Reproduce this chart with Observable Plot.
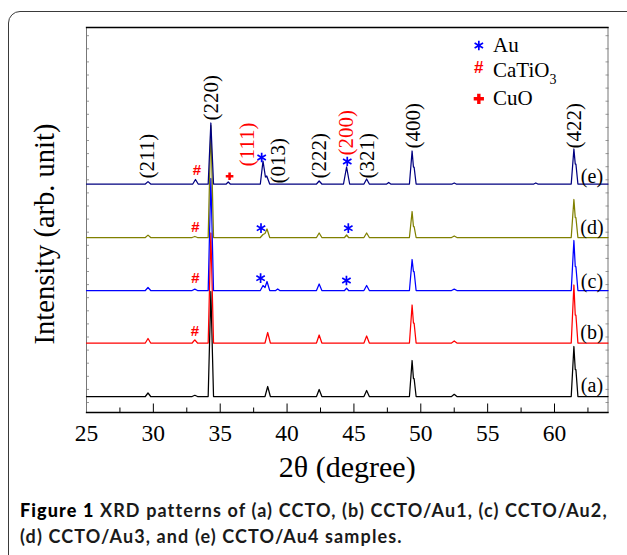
<!DOCTYPE html>
<html><head><meta charset="utf-8">
<script src="https://cdn.jsdelivr.net/npm/d3@7"></script>
<script src="https://cdn.jsdelivr.net/npm/@observablehq/plot@0.6"></script>
<style>
body{margin:0;background:#fff;width:627px;height:555px;overflow:hidden;position:relative;}
#box{position:absolute;left:8px;top:11px;width:700px;height:700px;border:1.5px solid #3a3a3a;border-top-left-radius:12px;box-sizing:border-box;z-index:2;pointer-events:none;}
#chart{position:absolute;left:0;top:0;z-index:1;}
#caption{position:absolute;left:20px;top:497px;font-family:Lato,"Open Sans",sans-serif;font-weight:700;font-size:18px;line-height:26px;color:#1a1a1a;white-space:nowrap;}
#caption b{color:#000;}
</style></head><body>
<div id="box"></div>
<div id="chart"></div>
<div id="caption"><span id="l1"><b>Figure 1</b> XRD patterns of (a) CCTO, (b) CCTO/Au1, (c) CCTO/Au2,</span><br><span id="l2">(d) CCTO/Au3, and (e) CCTO/Au4 samples.</span></div>
<script>
// ---------- data ----------
const sampleNames = ["(a)", "(b)", "(c)", "(d)", "(e)"];
const sampleColors = ["#000000", "#ff0000", "#0000ff", "#808000", "#000080"];
const offsets = [16, 69.5, 122, 175, 228.5];

const patternA = [[25,0],[29.4,0],[29.6,3.5],[29.8,0],[32.9,0],[33.1,1.2],[33.3,0],[34.1,0],[34.3,105],[34.5,0],[38.35,0],[38.55,10],[38.75,0],[42.2,0],[42.4,7],[42.6,0],[45.75,0],[45.95,6],[46.15,0],[49.15,0],[49.35,36],[49.45,18],[49.5,18],[49.65,0],[52.3,0],[52.5,2.2],[52.7,0],[61.25,0],[61.45,50],[61.55,27],[61.6,27],[61.75,0],[64,0]];
const patternB = [[25,0],[29.4,0],[29.6,4.5],[29.8,0],[32.9,0],[33.1,3.2],[33.3,0],[34.1,0],[34.3,110],[34.5,0],[38.35,0],[38.55,10.5],[38.75,0],[42.2,0],[42.4,8],[42.6,0],[45.75,0],[45.95,7],[46.15,0],[49.15,0],[49.35,38],[49.45,20],[49.5,20],[49.65,0],[52.3,0],[52.5,2],[52.7,0],[61.25,0],[61.45,58],[61.55,28],[61.6,28],[61.75,0],[64,0]];
const patternC = [[25,0],[29.4,0],[29.6,3],[29.8,0],[32.9,0],[33.1,1.4],[33.3,0],[34.1,0],[34.3,112],[34.5,0],[38.0,0],[38.2,5],[38.35,3],[38.5,9],[38.7,0],[39.15,0],[39.3,1.5],[39.45,0],[42.2,0],[42.4,6.5],[42.6,0],[44.3,0],[44.45,2.4],[44.6,0],[45.75,0],[45.95,5],[46.15,0],[49.15,0],[49.35,31],[49.45,19],[49.5,19],[49.65,0],[52.3,0],[52.5,1.4],[52.7,0],[61.25,0],[61.45,50],[61.55,24],[61.6,24],[61.75,0],[64,0]];
const patternD = [[25,0],[29.4,0],[29.6,2.4],[29.8,0],[32.9,0],[33.1,1],[33.3,0],[34.1,0],[34.3,112],[34.5,0],[38.0,0],[38.2,3],[38.35,4],[38.5,8.5],[38.7,0],[42.2,0],[42.4,4.5],[42.6,0],[44.3,0],[44.45,2.5],[44.6,0],[45.75,0],[45.95,4.5],[46.15,0],[49.15,0],[49.35,26],[49.45,11],[49.5,11],[49.65,0],[52.3,0],[52.5,1.5],[52.7,0],[61.25,0],[61.45,38],[61.55,20],[61.6,20],[61.75,0],[64,0]];
const patternE = [[25,0],[29.4,0],[29.6,2.4],[29.8,0],[32.95,0],[33.15,4.5],[33.35,0],[34.1,0],[34.3,61],[34.5,0],[35.45,0],[35.6,2],[35.75,0],[38.0,0],[38.2,23],[38.38,7],[38.48,8],[38.7,0],[42.2,0],[42.4,3],[42.6,0],[44.22,0],[44.45,17],[44.68,0],[45.75,0],[45.95,5],[46.15,0],[47.45,0],[47.6,1.5],[47.75,0],[49.15,0],[49.35,33],[49.45,17],[49.5,17],[49.65,0],[52.35,0],[52.5,1],[52.65,0],[58.45,0],[58.6,1],[58.75,0],[61.25,0],[61.45,35],[61.55,20],[61.6,20],[61.75,0],[64,0]];
const patterns = [patternA, patternB, patternC, patternD, patternE];

// peak (hkl) labels
const hklLabels = ["(211)", "(220)", "(111)", "(013)", "(222)", "(200)", "(321)", "(400)", "(422)"];
const hklTheta  = [29.57, 34.34, 37.0, 39.37, 42.37, 44.42, 45.96, 49.4, 61.45];
const hklY      = [234, 292, 246, 229, 234, 257, 234, 264, 264];
const hklRed    = [false, false, true, false, false, true, false, false, false];

// phase markers
const auTheta = [38.1, 44.5, 38.05, 44.58, 38.02, 44.44];
const auY     = [255, 251, 184.3, 184.3, 134.3, 132];
const ctoTheta = [33.25, 33.14, 33.14, 33.1];
const ctoY     = [242.7, 185.3, 134.3, 81.3];
const cuoTheta = [35.7];
const cuoY     = [236.3];

// sample labels
const sampleLabelTheta = 62.8;
const sampleLabelY = [27, 80.3, 131.2, 184.5, 236.4];

// legend
const legendNames = ["Au", "CaTiO3", "CuO"];
const legendY = [367, 342, 314];
const legendSymbolY = [367, 345, 313.7];
const legendSymbolTheta = 54.34;
const legendTextTheta = 55.4;

// ticks
const majorTicks = [25, 30, 35, 40, 45, 50, 55, 60];
const minorTicks = [27.5, 32.5, 37.5, 42.5, 47.5, 52.5, 57.5, 62.5];
const yTicks = d3.range(10, 385, 13.1);

// ---------- build ----------
const lineMarks = patterns.map((p, i) =>
  Plot.line(p.map(([t, v]) => ({theta: t, intensity: v + offsets[i]})),
    {x: "theta", y: "intensity", stroke: sampleColors[i], strokeWidth: 1.25, strokeLinejoin: "round"}));

const idx = hklLabels.map((d, i) => i);
const serif = "Liberation Serif, Times New Roman, serif";
const sans = "Liberation Sans, Arial, sans-serif";

const chart = Plot.plot({
  width: 627, height: 490,
  marginLeft: 86, marginRight: 19.5, marginTop: 27, marginBottom: 78,
  x: {domain: [25, 64]},
  y: {domain: [0, 385]},
  style: {fontFamily: serif, background: "transparent", color: "black", overflow: "visible"},
  marks: [
    Plot.axisY({anchor: "left", ticks: yTicks, tickSize: -3, fill: "none", stroke: "#999", label: null}),
    Plot.axisY({anchor: "right", ticks: yTicks, tickSize: -3, fill: "none", stroke: "#999", label: null}),
    Plot.axisX({ticks: majorTicks, tickSize: -8.5, fill: "none", label: null}),
    Plot.axisX({ticks: minorTicks, tickSize: -4.5, fill: "none", label: null}),
    Plot.axisX({ticks: majorTicks, tickSize: 0, tickPadding: 12, fontSize: 23.5, label: null, tickFormat: d => String(d)}),
    Plot.frame({anchor: "left", stroke: "#777"}),
    Plot.frame({anchor: "right", stroke: "#777"}),
    Plot.frame({anchor: "top", stroke: "black", strokeWidth: 1.3}),
    Plot.frame({anchor: "bottom", stroke: "black", strokeWidth: 1.3}),
    ...lineMarks,
    Plot.text(idx.filter(i => !hklRed[i]), {x: i => hklTheta[i], y: i => hklY[i], text: i => hklLabels[i], rotate: -90, textAnchor: "start", fontSize: 21, fill: "black"}),
    Plot.text(idx.filter(i => hklRed[i]), {x: i => hklTheta[i], y: i => hklY[i], text: i => hklLabels[i], rotate: -90, textAnchor: "start", fontSize: 21, fill: "#ff0000"}),
    Plot.dot(auTheta.map((t, i) => i), {x: i => auTheta[i], y: i => auY[i], symbol: "asterisk", r: 4.6, stroke: "#0000ff", strokeWidth: 1.7}),
    Plot.text(ctoTheta.map((t, i) => i), {x: i => ctoTheta[i], y: i => ctoY[i], text: () => "#", fill: "#ff0000", fontWeight: "bold", fontSize: 15, fontFamily: sans}),
    Plot.dot(cuoTheta.map((t, i) => i), {x: i => cuoTheta[i], y: i => cuoY[i], symbol: "cross", r: 3.2, fill: "#ff0000", stroke: "none"}),
    Plot.text(sampleNames, {x: () => sampleLabelTheta, y: (d, i) => sampleLabelY[i], text: d => d, fontSize: 20, fill: "black"}),
    // legend
    Plot.dot([0], {x: () => legendSymbolTheta, y: () => legendSymbolY[0], symbol: "asterisk", r: 4.6, stroke: "#0000ff", strokeWidth: 1.7}),
    Plot.text([0], {x: () => legendSymbolTheta, y: () => legendSymbolY[1], text: () => "#", fill: "#ff0000", fontWeight: "bold", fontSize: 17, fontFamily: sans}),
    Plot.dot([0], {x: () => legendSymbolTheta, y: () => legendSymbolY[2], symbol: "cross", r: 4.3, fill: "#ff0000", stroke: "none"}),
    Plot.text(legendNames, {x: () => legendTextTheta, y: (d, i) => legendY[i], text: d => d, textAnchor: "start", fontSize: 21, fill: "black"}),
    // axis titles
    Plot.text(["Intensity (arb. unit)"], {frameAnchor: "left", textAnchor: "middle", lineAnchor: "middle", dx: -42, dy: 14, rotate: -90, text: d => d, fontSize: 28.5, fill: "black"}),
    Plot.text(["2θ (degree)"], {frameAnchor: "bottom", textAnchor: "middle", lineAnchor: "middle", dy: 55, text: d => d, fontSize: 30, fill: "black"})
  ]
});
document.getElementById("chart").appendChild(chart);

// subscript for CaTiO3
chart.querySelectorAll("text").forEach(t => {
  if (t.textContent === "CaTiO3") {
    t.innerHTML = 'CaTiO<tspan dy="0.45em" font-size="14">3</tspan>';
  }
});

// fit caption line width
const l1 = document.getElementById("l1"), l2 = document.getElementById("l2");
const target = 587;
const w = l1.getBoundingClientRect().width;
const n = l1.textContent.length;
const ls = (target - w) / n;
l1.style.letterSpacing = ls + "px";
l2.style.letterSpacing = ls + "px";
</script>
</body></html>
